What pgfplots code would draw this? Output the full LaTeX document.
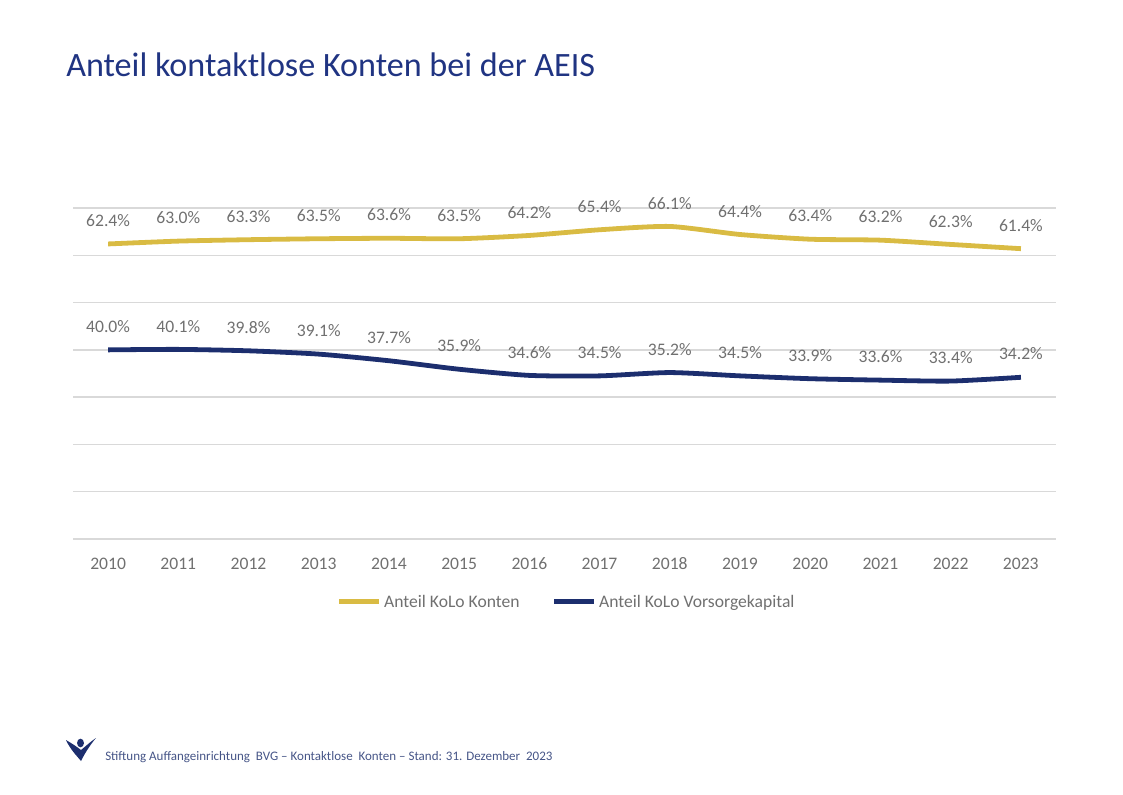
\documentclass[border=0pt]{standalone}
\usepackage{pgfplots}
\pgfplotsset{compat=1.18}
\usepackage{fontspec}
\setmainfont{Carlito}
\definecolor{kyellow}{RGB}{217,187,67}
\definecolor{kblue}{RGB}{28,46,110}
\definecolor{ktitle}{RGB}{32,52,130}
\definecolor{kfoot}{RGB}{70,85,135}
\definecolor{kgray}{RGB}{112,112,112}
\definecolor{kgrid}{RGB}{217,217,217}
\begin{document}
\begin{tikzpicture}
\path[use as bounding box] (0,0) rectangle (842.25pt,595.5pt);
\begin{scope}[x=0.75pt,y=-0.75pt,yshift=595.5pt]
\node[anchor=base west,inner sep=0pt,text=ktitle,font=\fontsize{25.6}{30}\selectfont] at (66,77) {Anteil kontaktlose Konten bei der AEIS};
\fill[kblue] (66,740) .. controls (70,749) and (76,755) .. (81,761) .. controls (85,753) and (90,745) .. (96,738) .. controls (90,742) and (86,746) .. (81,750) .. controls (76,746) and (71,743) .. cycle;
\fill[kblue] (80.5,743) ellipse[x radius=3.5, y radius=4.3];
\node[anchor=base west,inner sep=0pt,text=kfoot,font=\fontsize{9.75}{11}\selectfont] at (105,760) {Stiftung Auffangeinrichtung\ \ BVG – Kontaktlose\ \ Konten – Stand: 31. Dezember\ \ 2023};
\end{scope}
\begin{axis}[
  at={(54.75pt,191.25pt)}, anchor=south west,
  scale only axis, width=737.25pt, height=248.25pt,
  xmin=2009.5, xmax=2023.5, ymin=0, ymax=70,
  axis line style={draw=none},
  ytick={0,10,...,70}, yticklabels={},
  ymajorgrids, grid style={kgrid, line width=1pt},
  major tick length=0pt,
  xtick={2010,...,2023},
  /pgf/number format/assume math mode=true,
  xticklabel={\pgfmathprintnumber[1000 sep={}]{\tick}},
  xticklabel style={anchor=base, yshift=-22.5pt, text=kgray, font=\fontsize{13.2}{15}\selectfont},
  nodes near coords={\pgfmathprintnumber[fixed,precision=1,fixed zerofill]{\pgfplotspointmeta}\%},
  every node near coord/.append style={anchor=base, inner sep=0pt, yshift=13pt, text=kgray, font=\fontsize{13.2}{15}\selectfont},
  legend columns=2,
  legend style={at={(0.5025,-0.19)}, anchor=center, draw=none, fill=none,
    font=\fontsize{13.2}{15}\selectfont, text=kgray,
    /tikz/every even column/.append style={column sep=22pt},
    cells={inner xsep=1pt}},
  legend image code/.code={\draw[#1] (0pt,0pt) -- (30pt,0pt);},
  clip=false,
]
\addplot[kyellow, line width=3.6pt, smooth, tension=0.4] coordinates {
(2010,62.4) (2011,63.0) (2012,63.3) (2013,63.5) (2014,63.6) (2015,63.5) (2016,64.2)
(2017,65.4) (2018,66.1) (2019,64.4) (2020,63.4) (2021,63.2) (2022,62.3) (2023,61.4)};
\addlegendentry{Anteil KoLo Konten}
\addplot[kblue, line width=3.6pt, smooth, tension=0.4] coordinates {
(2010,40.0) (2011,40.1) (2012,39.8) (2013,39.1) (2014,37.7) (2015,35.9) (2016,34.6)
(2017,34.5) (2018,35.2) (2019,34.5) (2020,33.9) (2021,33.6) (2022,33.4) (2023,34.2)};
\addlegendentry{Anteil KoLo Vorsorgekapital}
\end{axis}
\end{tikzpicture}
\end{document}
